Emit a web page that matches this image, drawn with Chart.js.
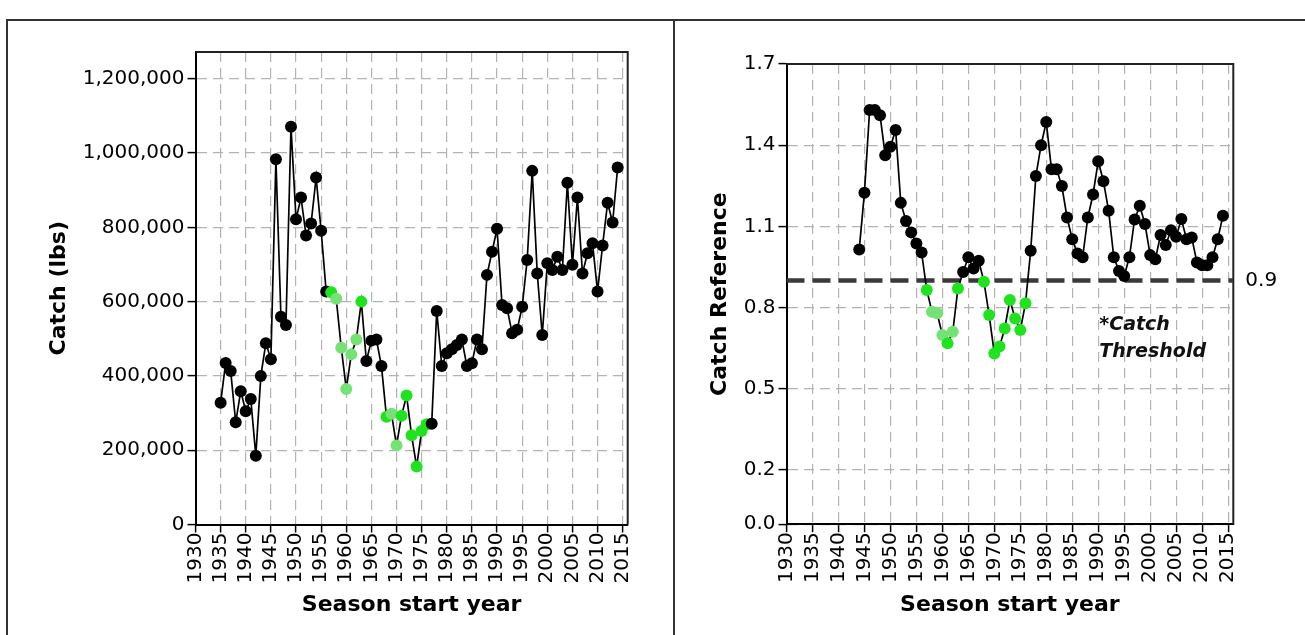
<!DOCTYPE html>
<html lang="en">
<head>
<meta charset="UTF-8">
<title>Season catch</title>
<script src="https://cdn.jsdelivr.net/npm/chart.js@4"></script>
<style>
  html, body { margin: 0; padding: 0; background: #fff; }
  body { width: 1305px; height: 635px; position: relative; overflow: hidden; }
  .rule { position: absolute; background: #333; }
  canvas { position: absolute; top: 0; }
  #catchChart { left: 0; }
  #refChart { left: 675px; }
</style>
</head>
<body>
<div class="rule" style="left:6px; top:19px; width:1299px; height:2px;"></div>
<div class="rule" style="left:6px; top:19px; width:2px; height:616px;"></div>
<div class="rule" style="left:673px; top:19px; width:2px; height:616px;"></div>
<canvas id="catchChart" width="673" height="635"></canvas>
<canvas id="refChart" width="630" height="635"></canvas>
<script>
// tick labels
const yearTicks = [1930, 1935, 1940, 1945, 1950, 1955, 1960, 1965, 1970, 1975, 1980, 1985, 1990, 1995, 2000, 2005, 2010, 2015];
const catchTicks = [0, 200000, 400000, 600000, 800000, 1000000, 1200000];
const refTicks = [0, 0.2, 0.5, 0.8, 1.1, 1.4, 1.7];
const threshold = 0.9;

// left panel: catch in lbs
const catchYears = [1935, 1936, 1937, 1938, 1939, 1940, 1941, 1942, 1943, 1944, 1945, 1946, 1947, 1948, 1949,
    1950, 1951, 1952, 1953, 1954, 1955, 1956, 1957, 1958, 1959, 1960, 1961, 1962, 1963, 1964, 1965, 1966,
    1967, 1968, 1969, 1970, 1971, 1972, 1973, 1974, 1975, 1976, 1977, 1978, 1979, 1980, 1981, 1982, 1983,
    1984, 1985, 1986, 1987, 1988, 1989, 1990, 1991, 1992, 1993, 1994, 1995, 1996, 1997, 1998, 1999, 2000,
    2001, 2002, 2003, 2004, 2005, 2006, 2007, 2008, 2009, 2010, 2011, 2012, 2013, 2014];
const catchValues = [328000, 435000, 413000, 275000, 359000, 305000, 338000, 185000, 400000, 488000, 445000,
    983000, 559000, 537000, 1071000, 822000, 880000, 778000, 810000, 934000, 791000, 627000, 625000, 608000,
    476000, 365000, 458000, 498000, 600000, 440000, 495000, 498000, 427000, 290000, 298000, 213000, 293000,
    347000, 240000, 156000, 252000, 270000, 271000, 575000, 427000, 461000, 472000, 483000, 498000, 427000,
    434000, 498000, 472000, 672000, 734000, 796000, 591000, 582000, 515000, 524000, 586000, 712000, 952000,
    676000, 510000, 703000, 685000, 721000, 685000, 920000, 699000, 880000, 676000, 730000, 757000, 627000,
    751000, 866000, 813000, 961000];
// b = above threshold, g = below, l = below (lighter marker)
const catchStatus = ['b', 'b', 'b', 'b', 'b', 'b', 'b', 'b', 'b', 'b', 'b', 'b', 'b', 'b', 'b', 'b', 'b', 'b',
    'b', 'b', 'b', 'b', 'g', 'l', 'l', 'l', 'l', 'l', 'g', 'b', 'b', 'b', 'b', 'g', 'l', 'l', 'g', 'g', 'g',
    'g', 'g', 'g', 'b', 'b', 'b', 'b', 'b', 'b', 'b', 'b', 'b', 'b', 'b', 'b', 'b', 'b', 'b', 'b', 'b', 'b',
    'b', 'b', 'b', 'b', 'b', 'b', 'b', 'b', 'b', 'b', 'b', 'b', 'b', 'b', 'b', 'b', 'b', 'b', 'b', 'b'];

// right panel: catch reference
const refYears = [1944, 1945, 1946, 1947, 1948, 1949, 1950, 1951, 1952, 1953, 1954, 1955, 1956, 1957, 1958,
    1959, 1960, 1961, 1962, 1963, 1964, 1965, 1966, 1967, 1968, 1969, 1970, 1971, 1972, 1973, 1974, 1975,
    1976, 1977, 1978, 1979, 1980, 1981, 1982, 1983, 1984, 1985, 1986, 1987, 1988, 1989, 1990, 1991, 1992,
    1993, 1994, 1995, 1996, 1997, 1998, 1999, 2000, 2001, 2002, 2003, 2004, 2005, 2006, 2007, 2008, 2009,
    2010, 2011, 2012, 2013, 2014];
const refValues = [1.015, 1.224, 1.530, 1.530, 1.511, 1.363, 1.394, 1.456, 1.187, 1.120, 1.078, 1.037, 1.004,
    0.865, 0.785, 0.779, 0.699, 0.668, 0.711, 0.871, 0.932, 0.986, 0.945, 0.973, 0.896, 0.773, 0.631, 0.656,
    0.723, 0.828, 0.760, 0.717, 0.816, 1.010, 1.286, 1.400, 1.486, 1.311, 1.311, 1.249, 1.133, 1.053, 1.000,
    0.986, 1.133, 1.218, 1.341, 1.267, 1.158, 0.986, 0.935, 0.917, 0.986, 1.126, 1.176, 1.109, 0.994, 0.979,
    1.068, 1.031, 1.086, 1.062, 1.127, 1.053, 1.059, 0.967, 0.957, 0.957, 0.986, 1.053, 1.139];
const refStatus = ['b', 'b', 'b', 'b', 'b', 'b', 'b', 'b', 'b', 'b', 'b', 'b', 'b', 'g', 'l', 'l', 'l', 'g',
    'l', 'g', 'b', 'b', 'b', 'b', 'g', 'g', 'g', 'g', 'g', 'g', 'g', 'g', 'g', 'b', 'b', 'b', 'b', 'b', 'b',
    'b', 'b', 'b', 'b', 'b', 'b', 'b', 'b', 'b', 'b', 'b', 'b', 'b', 'b', 'b', 'b', 'b', 'b', 'b', 'b', 'b',
    'b', 'b', 'b', 'b', 'b', 'b', 'b', 'b', 'b', 'b', 'b'];

const statusColors = { b: '#000000', g: '#1fe31f', l: '#74e274' };

const tickFont = { family: 'DejaVu Sans', size: 20 };
const titleFont = { family: 'DejaVu Sans', size: 22, weight: 'bold' };

function gridOpts() {
    return { color: '#b3b3b3', lineWidth: 1.2, tickColor: '#000', tickLength: 8, tickWidth: 1.5 };
}
function borderOpts() {
    return { color: '#000', width: 2, dash: [10, 6] };
}

// top and right edges of the plot box
const plotFrame = {
    id: 'plotFrame',
    beforeDatasetsDraw(chart) {
        const { ctx, chartArea: a } = chart;
        ctx.save();
        ctx.strokeStyle = '#222';
        ctx.lineWidth = 2;
        ctx.beginPath();
        ctx.moveTo(a.left, a.top);
        ctx.lineTo(a.right, a.top);
        ctx.lineTo(a.right, a.bottom);
        ctx.stroke();
        ctx.restore();
    }
};

function seriesDataset(years, values, status) {
    const colors = status.map(s => statusColors[s]);
    return {
        data: years.map((yr, i) => ({ x: yr, y: values[i] })),
        borderColor: '#000',
        borderWidth: 1.7,
        pointRadius: 6,
        pointBorderWidth: 0,
        pointBackgroundColor: colors,
        pointBorderColor: colors,
        tension: 0
    };
}

function yearAxis(height) {
    return {
        type: 'linear',
        min: 1930,
        max: 2016,
        afterBuildTicks: s => { s.ticks = yearTicks.map(v => ({ value: v })); },
        afterFit: s => { s.height = height; },
        ticks: {
            font: tickFont, color: '#000', minRotation: 90, maxRotation: 90,
            autoSkip: false, padding: 0, callback: v => String(v)
        },
        grid: gridOpts(),
        border: borderOpts(),
        title: {
            display: true, text: 'Season start year', font: titleFont, color: '#000',
            padding: { top: 0, bottom: 17 }
        }
    };
}

new Chart(document.getElementById('catchChart'), {
    type: 'line',
    data: { datasets: [seriesDataset(catchYears, catchValues, catchStatus)] },
    options: {
        responsive: false,
        animation: false,
        layout: { padding: { left: 0, top: 52, right: 45.3, bottom: 0 } },
        plugins: { legend: { display: false }, tooltip: { enabled: false } },
        scales: {
            x: yearAxis(110.5),
            y: {
                min: 0,
                max: 1272000,
                afterBuildTicks: s => { s.ticks = catchTicks.map(v => ({ value: v })); },
                afterFit: s => { s.width = 195.5; },
                ticks: { font: tickFont, color: '#000', padding: 3, callback: v => v.toLocaleString('en-US') },
                grid: gridOpts(),
                border: borderOpts(),
                title: {
                    display: true, text: 'Catch (lbs)', font: titleFont, color: '#000',
                    padding: { top: 46, bottom: 0 }
                }
            }
        }
    },
    plugins: [plotFrame]
});

const thresholdNote = {
    id: 'thresholdNote',
    afterDatasetsDraw(chart) {
        const { ctx, scales } = chart;
        const x = scales.x.getPixelForValue(1990.2);
        ctx.save();
        ctx.font = 'italic bold 19px "DejaVu Sans"';
        ctx.fillStyle = '#111';
        ctx.textBaseline = 'middle';
        ctx.textAlign = 'left';
        ctx.fillText('*Catch', x, scales.y.getPixelForValue(0.736));
        ctx.fillText('Threshold', x, scales.y.getPixelForValue(0.636));
        ctx.restore();
    }
};

new Chart(document.getElementById('refChart'), {
    type: 'line',
    data: {
        datasets: [
            seriesDataset(refYears, refValues, refStatus),
            {
                data: [{ x: 1930, y: threshold }, { x: 2016, y: threshold }],
                borderColor: '#3a3a3a',
                borderWidth: 4.5,
                borderDash: [18, 8],
                pointRadius: 0
            }
        ]
    },
    options: {
        responsive: false,
        animation: false,
        layout: { padding: { left: 0, top: 64, right: 0, bottom: 0 } },
        plugins: { legend: { display: false }, tooltip: { enabled: false } },
        scales: {
            x: yearAxis(110.8),
            y: {
                min: 0,
                max: 1.7,
                afterBuildTicks: s => { s.ticks = refTicks.map(v => ({ value: v })); },
                afterFit: s => { s.width = 111.5; },
                ticks: { font: tickFont, color: '#000', padding: 3, callback: v => v.toFixed(1) },
                grid: gridOpts(),
                border: borderOpts(),
                title: {
                    display: true, text: 'Catch Reference', font: titleFont, color: '#000',
                    padding: { top: 32, bottom: 0 }
                }
            },
            y2: {
                position: 'right',
                min: 0,
                max: 1.7,
                afterBuildTicks: s => { s.ticks = [{ value: threshold }]; },
                afterFit: s => { s.width = 71.7; },
                ticks: { font: tickFont, color: '#000', padding: 12, callback: v => v.toFixed(1) },
                grid: { display: false, drawTicks: false },
                border: { display: false }
            }
        }
    },
    plugins: [plotFrame, thresholdNote]
});
</script>
</body>
</html>
